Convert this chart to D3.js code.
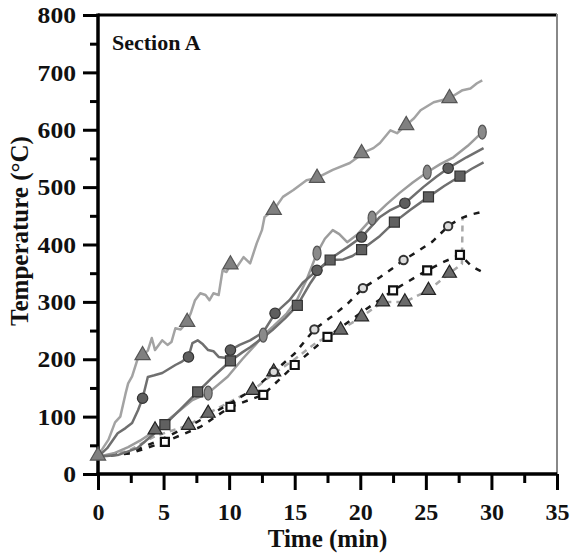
<!DOCTYPE html>
<html>
<head>
<meta charset="utf-8">
<script src="https://cdn.jsdelivr.net/npm/d3@7"></script>
<style>
  html, body { margin: 0; padding: 0; background: #fff; }
  svg text { font-family: "Liberation Serif", "Times New Roman", serif; font-weight: bold; fill: #111; }
</style>
</head>
<body>
<svg id="chart" width="572" height="559"></svg>
<script>
// ---------- data (time in min, temperature in °C) ----------
const xTicks = [0, 5, 10, 15, 20, 25, 30, 35];
const yTicks = [0, 100, 200, 300, 400, 500, 600, 700, 800];
const xMinorTicks = [2.5, 7.5, 12.5, 17.5, 22.5, 27.5, 32.5];
const yMinorTicks = [50, 150, 250, 350, 450, 550, 650, 750];

const triLine = [[0,32],[0.8,60],[1.3,90],[1.7,100],[2.1,140],[2.3,158],[2.6,170],[3.0,199],[3.4,207],[3.8,215],[4.1,237],[4.35,216],[4.9,233],[5.3,225],[5.6,230],[5.9,254],[6.3,252],[6.8,265],[7.1,282],[7.4,303],[7.8,315],[8.2,312],[8.5,303],[8.8,315],[9.2,312],[9.5,355],[9.8,352],[10.1,365],[10.6,361],[11.1,378],[11.6,367],[12.1,402],[12.5,425],[12.7,448],[13.4,460],[14.1,483],[14.9,495],[15.9,512],[16.7,516],[17.9,530],[19.2,542],[19.8,552],[20.1,559],[21.0,568],[21.5,577],[22.3,599],[22.8,594],[23.5,608],[24.1,620],[24.6,634],[25.6,648],[26.8,655],[27.8,669],[28.4,672],[28.9,681],[29.3,686]];
const triMarks = [[0,32],[3.4,207],[6.8,265],[10.1,365],[13.4,460],[16.7,516],[20.1,559],[23.5,608],[26.8,655]];

const circLine = [[0,30],[0.7,45],[1.5,71],[2.1,80],[2.6,89],[3.05,111],[3.4,132],[3.8,169],[4.3,172],[4.9,176],[5.4,183],[5.9,190],[6.4,196],[6.9,204],[7.2,228],[7.6,233],[8.0,226],[8.4,216],[8.8,214],[9.2,204],[9.8,202],[10.1,216],[10.8,225],[11.6,233],[12.6,247],[13.5,280],[14.6,303],[15.6,333],[16.7,355],[17.9,378],[19.0,395],[20.1,413],[21.5,448],[22.3,460],[23.4,472],[24.8,500],[25.8,518],[26.7,533],[28.1,552],[29.4,568]];
const circMarks = [[3.4,132],[6.9,204],[10.1,216],[13.5,280],[16.7,355],[20.1,413],[23.4,472],[26.7,533]];

const diamLine = [[0,30],[1.2,36],[2.3,47],[3.2,58],[4.2,73],[5.6,99],[7.2,129],[8.4,141],[9.9,170],[11.0,200],[12.0,225],[12.6,242],[13.4,258],[14.4,280],[15.2,305],[15.9,338],[16.7,385],[17.3,410],[17.9,425],[18.4,418],[19.0,404],[19.8,418],[20.9,446],[22.0,470],[23.0,490],[24.0,508],[25.1,526],[26.1,540],[27.1,552],[28.2,572],[29.3,596]];
const diamMarks = [[8.4,141],[12.6,242],[16.7,385],[20.9,446],[25.1,526],[29.3,596]];

const sqLine = [[0,30],[1.5,33],[3.0,45],[4.0,65],[5.1,86],[6.3,113],[7.6,143],[8.8,170],[10.1,197],[11.0,212],[11.6,221],[12.6,238],[13.3,251],[14.3,272],[15.2,294],[16.2,333],[17.0,360],[17.7,373],[18.7,374],[19.4,380],[20.1,391],[21.5,415],[22.6,439],[23.8,460],[25.2,483],[26.4,502],[27.6,519],[28.5,532],[29.4,543]];
const sqMarks = [[5.1,86],[7.6,143],[10.1,197],[15.2,294],[17.7,373],[20.1,391],[22.6,439],[25.2,483],[27.6,519]];

const upDashLine = [[0,30],[2.5,38],[5,62],[7.5,90],[10,122],[12,150],[13.4,178],[15,210],[16.5,252],[17.8,274],[19,296],[20.2,324],[21.5,343],[22.5,359],[23.3,373],[24.3,387],[25.5,405],[26.7,432],[27.6,445],[28.4,452],[29.3,457]];
const upDashMarks = [[13.4,178],[16.5,252],[20.2,324],[23.3,373],[26.7,432]];

const lowDashLine = [[0,30],[2.5,36],[5.1,56],[7.8,82],[10.1,117],[12.6,138],[15,190],[17.5,239],[20,280],[22.5,320],[25.1,355],[26.4,370],[27.6,382],[28.5,362],[29.3,352]];
const lowDashMarks = [[5.1,56],[10.1,117],[12.6,138],[15,190],[17.5,239],[22.5,320],[25.1,355],[27.6,382]];

const grayDashLine = [[0,30],[2.3,40],[4.35,66],[6.9,85],[8.4,106],[10,125],[11.8,146],[13.4,175],[15,200],[16.7,230],[18.5,251],[20.1,274],[21.7,300],[23.4,300],[25.2,320],[26.8,350],[27.75,366],[27.8,448]];
const grayTriMarks = [[4.35,77],[6.9,85],[8.4,106],[11.8,146],[13.4,178],[18.5,251],[20.1,274],[21.7,300],[23.4,300],[25.2,320],[26.8,350]];

// ---------- layout ----------
const svg = d3.select("#chart");
const padL = 98, padR = 557, padT = 15, padB = 474;
const x = d3.scaleLinear().domain([0, 35]).range([padL, padR]);
const y = d3.scaleLinear().domain([0, 800]).range([padB, padT]);

// frame (top and right)
svg.append("line").attr("x1", padL).attr("x2", padR).attr("y1", padT).attr("y2", padT)
  .attr("stroke", "#000").attr("stroke-width", 3);
svg.append("line").attr("x1", padR).attr("x2", padR).attr("y1", padT - 1).attr("y2", padB + 6)
  .attr("stroke", "#888").attr("stroke-width", 2);

// axes
function styleAxis(g, fs) {
  g.select(".domain").remove();
  g.selectAll(".tick line").attr("stroke", "#000").attr("stroke-width", 3);
  g.selectAll(".tick text").attr("font-size", fs).attr("fill", "#111");
}
const yAxis = svg.append("g").attr("transform", `translate(${padL},0)`)
  .call(d3.axisLeft(y).tickValues(yTicks).tickSize(15).tickPadding(7).tickFormat(d3.format("d")));
styleAxis(yAxis, 24);
yAxis.selectAll(".tick text")
  .attr("textLength", d => String(d).length * 12.8).attr("lengthAdjust", "spacingAndGlyphs");
const yMinor = svg.append("g").attr("transform", `translate(${padL},0)`)
  .call(d3.axisLeft(y).tickValues(yMinorTicks).tickSize(8).tickFormat(""));
styleAxis(yMinor, 24);

const xAxis = svg.append("g").attr("transform", `translate(0,${padB})`)
  .call(d3.axisBottom(x).tickValues(xTicks).tickSize(16).tickPadding(13).tickFormat(d3.format("d")));
styleAxis(xAxis, 24);
const xMinor = svg.append("g").attr("transform", `translate(0,${padB})`)
  .call(d3.axisBottom(x).tickValues(xMinorTicks).tickSize(9).tickFormat(""));
styleAxis(xMinor, 24);

// axis lines
svg.append("line").attr("x1", padL).attr("x2", padL).attr("y1", padT - 1.5).attr("y2", padB + 1.5)
  .attr("stroke", "#000").attr("stroke-width", 3.5);
svg.append("line").attr("x1", padL - 1.5).attr("x2", padR).attr("y1", padB).attr("y2", padB)
  .attr("stroke", "#000").attr("stroke-width", 3.5);

// titles
svg.append("text").attr("x", (padL + padR) / 2).attr("y", 547).attr("text-anchor", "middle")
  .attr("font-size", 25).text("Time (min)");
svg.append("text").attr("transform", `translate(28,${231}) rotate(-90)`).attr("text-anchor", "middle")
  .attr("font-size", 25).text("Temperature (°C)");
svg.append("text").attr("x", 112).attr("y", 50).attr("font-size", 22).text("Section A");

// lines
const line = d3.line().x(d => x(d[0])).y(d => y(d[1]));
const plot = svg.append("g");
function drawLine(data, color, width, dash) {
  plot.append("path").datum(data).attr("d", line).attr("fill", "none")
    .attr("stroke", color).attr("stroke-width", width)
    .attr("stroke-linejoin", "round")
    .attr("stroke-dasharray", dash || null);
}
drawLine(grayDashLine, "#a8a8a8", 2.5, "6,5");
drawLine(lowDashLine, "#1a1a1a", 2.5, "6,7");
drawLine(upDashLine, "#1a1a1a", 2.5, "6,7");
drawLine(triLine, "#a3a3a3", 2.5);
drawLine(diamLine, "#9c9c9c", 2.5);
drawLine(sqLine, "#6f6f6f", 2.5);
drawLine(circLine, "#6f6f6f", 2.5);

// markers
function drawMarks(data, type, size, fill, stroke, sw) {
  plot.selectAll(null).data(data).enter().append("path")
    .attr("transform", d => `translate(${x(d[0])},${y(d[1])})`)
    .attr("d", d3.symbol().type(type).size(size))
    .attr("fill", fill).attr("stroke", stroke).attr("stroke-width", sw);
}
function drawDiamonds(data, fill, stroke) {
  plot.selectAll(null).data(data).enter().append("ellipse")
    .attr("cx", d => x(d[0])).attr("cy", d => y(d[1]))
    .attr("rx", 4).attr("ry", 7)
    .attr("fill", fill).attr("stroke", stroke).attr("stroke-width", 1.2);
}
drawMarks(grayTriMarks, d3.symbolTriangle, 85, "#6a6a6a", "#222", 1.2);
drawMarks(lowDashMarks, d3.symbolSquare, 64, "#fff", "#111", 2.2);
drawMarks(upDashMarks, d3.symbolCircle, 55, "#ddd", "#333", 2);
drawMarks(triMarks, d3.symbolTriangle, 100, "#808080", "#555", 1.2);
drawDiamonds(diamMarks, "#8a8a8a", "#555");
drawMarks(sqMarks, d3.symbolSquare, 100, "#606060", "#333", 1.2);
drawMarks(circMarks, d3.symbolCircle, 85, "#5e5e5e", "#333", 1.2);
</script>
</body>
</html>
